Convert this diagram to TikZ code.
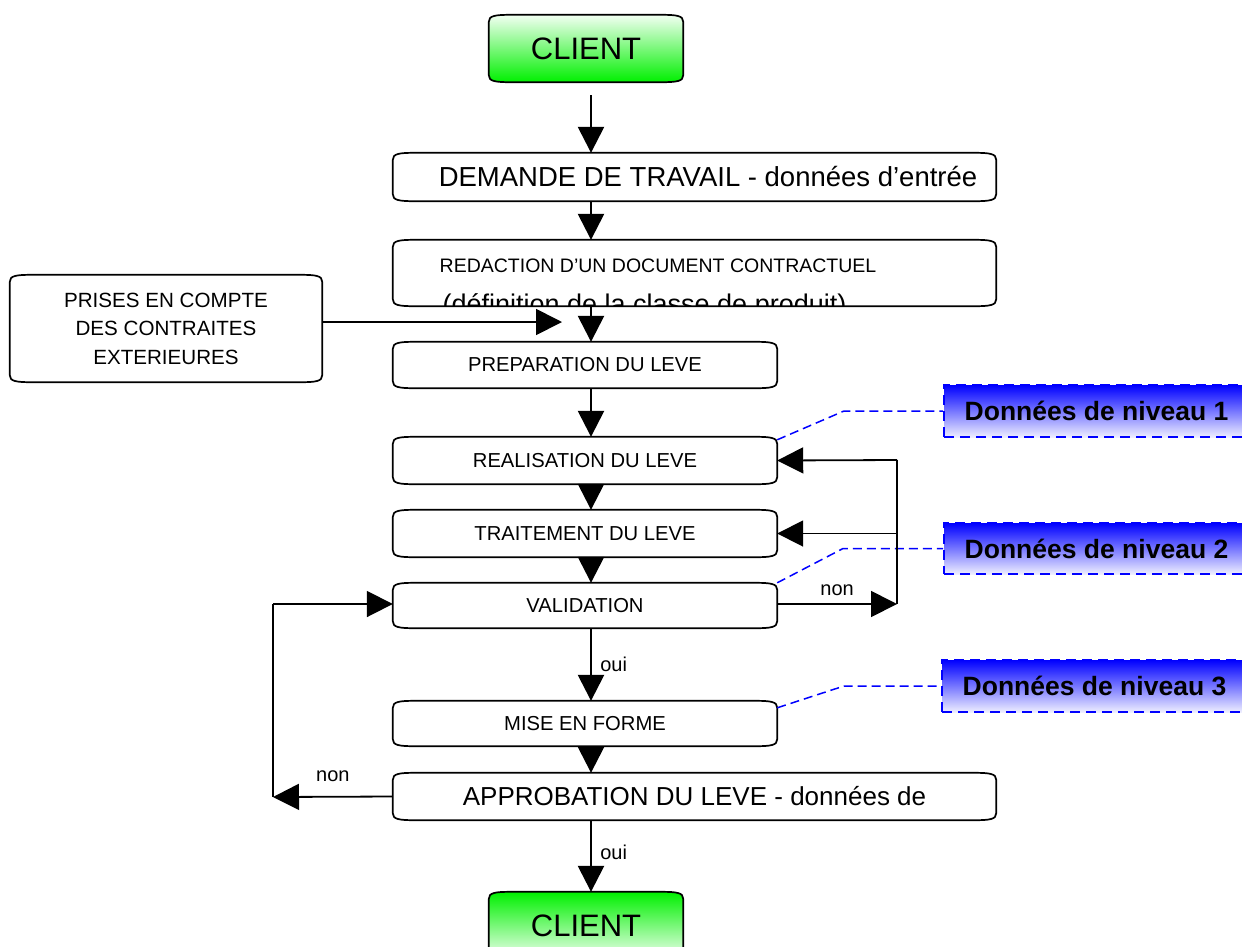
\documentclass[tikz,border=0pt]{standalone}
\usepackage{fontspec}
\setmainfont{Liberation Sans}
\usetikzlibrary{calc,arrows.meta,positioning}
\definecolor{vertclair}{RGB}{242,255,242}
\definecolor{vertvif}{RGB}{0,240,0}
\definecolor{bleuvif}{RGB}{0,0,255}
\definecolor{bleuclair}{RGB}{238,238,255}
\pgfdeclarelayer{background}
\pgfsetlayers{background,main}
\tikzset{
  boite/.style={inner sep=0pt, minimum width=384pt, minimum height=46pt, font=\fontsize{20.2}{22}\selectfont},
  grande/.style={boite, minimum width=603pt, font=\fontsize{26}{30}\selectfont},
  cadre/.style={draw, line width=1.7pt},
  client/.style={cadre, top color=vertclair, bottom color=vertvif},
  clientbas/.style={cadre, top color=vertvif, bottom color=vertclair},
  flux/.style={line width=2.6pt, -{Triangle[width=26pt,length=26pt]}},
  retour/.style={line width=1.8pt, -{Triangle[width=26pt,length=26pt]}},
  niveau/.style={draw=bleuvif, line width=2pt, dash pattern=on 10pt off 6pt,
    top color=bleuvif, bottom color=bleuclair, minimum width=305pt, minimum height=52pt,
    font=\fontsize{26.5}{30}\selectfont\bfseries},
  lien/.style={draw=bleuvif, line width=1.5pt, dash pattern=on 9pt off 5pt},
  etiq/.style={font=\fontsize{20}{24}\selectfont, inner sep=0pt}
}
% contour des boites (coins aplatis)
\newcommand{\rouleau}[2][cadre]{%
  \path[#1] ($(#2.north west)+(0pt,-7pt)$) .. controls ($(#2.north west)+(0pt,-1pt)$) and ($(#2.north west)+(6pt,0pt)$) .. ($(#2.north west)+(22pt,0pt)$)
    -- ($(#2.north east)+(-22pt,0pt)$) .. controls ($(#2.north east)+(-6pt,0pt)$) and ($(#2.north east)+(0pt,-1pt)$) .. ($(#2.north east)+(0pt,-7pt)$)
    -- ($(#2.south east)+(0pt,7pt)$) .. controls ($(#2.south east)+(0pt,1pt)$) and ($(#2.south east)+(-6pt,0pt)$) .. ($(#2.south east)+(-22pt,0pt)$)
    -- ($(#2.south west)+(22pt,0pt)$) .. controls ($(#2.south west)+(6pt,0pt)$) and ($(#2.south west)+(0pt,1pt)$) .. ($(#2.south west)+(0pt,7pt)$) -- cycle;}

\begin{document}
\begin{tikzpicture}[x=1pt, y=-1pt]
\useasboundingbox (0,0) rectangle (1242,946);
\node[boite, minimum width=194pt, minimum height=67pt, font=\fontsize{31}{36}\selectfont] (client1) at (586,48.5) {CLIENT};
\node[grande, minimum height=48pt, font=\fontsize{27.5}{30}\selectfont] (demande) at (694.5,177) {\hspace*{27pt}DEMANDE DE TRAVAIL - données d’entrée};
\node[grande, minimum height=66pt] (redac) at (694.5,273) {};
\node[boite, minimum width=312pt, minimum height=107pt, align=center, font=\fontsize{20.6}{28.5}\selectfont] (prises) at (166,328.5) {PRISES EN COMPTE\\DES CONTRAITES\\EXTERIEURES};
\node[boite] (prep) at (585,365) {PREPARATION DU LEVE};
\node[boite, minimum height=47pt] (realis) at (585,460.5) {REALISATION DU LEVE};
\node[boite, minimum height=47pt] (trait) at (585,533.5) {TRAITEMENT DU LEVE};
\node[boite, minimum height=45pt] (valid) at (585,605.5) {VALIDATION};
\node[boite, minimum height=45pt] (mise) at (585,723.5) {MISE EN FORME};
\node[grande, minimum height=47pt] (approb) at (694.5,796.5) {APPROBATION DU LEVE - données de};
\node[boite, minimum width=194pt, minimum height=67pt, font=\fontsize{31}{36}\selectfont] (client2) at (586,925.5) {CLIENT};

\begin{scope}
\clip (redac.south west) rectangle (redac.north east);
\node[etiq, anchor=base, font=\fontsize{19.5}{22}\selectfont] (redacA) at (658,272) {REDACTION D’UN DOCUMENT CONTRACTUEL};
\node[etiq, anchor=base, font=\fontsize{27}{30}\selectfont] (redacB) at (644.5,313) {(définition de la classe de produit)};
\end{scope}

\begin{pgfonlayer}{background}
\foreach \n in {demande,redac,prises,prep,realis,trait,valid,mise,approb} {\rouleau{\n}}
\rouleau[client]{client1}
\rouleau[clientbas]{client2}
\end{pgfonlayer}

% donnees
\node[niveau] (niv1) at (1096.5,411) {Données de niveau 1};
\node[niveau, minimum height=51pt] (niv2) at (1096.5,548.5) {Données de niveau 2};
\node[niveau] (niv3) at (1094.5,686) {Données de niveau 3};
\draw[lien] ([yshift=-3pt]realis.north east) -- ([xshift=-99pt]niv1.west) -- (niv1.west);
\draw[lien] (valid.north east) -- ([xshift=-100pt]niv2.west) -- (niv2.west);
\draw[lien] ([yshift=-7pt]mise.north east) -- ([xshift=-97pt]niv3.west) -- (niv3.west);

% fleches
\coordinate (axe) at (591,0);
\draw[flux] ($(client1.south -| axe)+(0pt,-13pt)$) -- (axe |- demande.north);
\draw[flux] (axe |- demande.south) -- (axe |- redac.north);
\draw[flux] (axe |- redac.south) -- (axe |- prep.north);
\coordinate (entree) at (562,322);
\draw[retour] ([yshift=6.5pt]prises.east) -- (entree);
\draw[flux] (axe |- prep.south) -- (axe |- realis.north);
\draw[flux] (axe |- realis.south) -- (axe |- trait.north);
\draw[flux] (axe |- trait.south) -- (axe |- valid.north);
\draw[flux] (axe |- valid.south) -- node[etiq, right=8pt]{oui} (axe |- mise.north);
\draw[flux] (axe |- mise.south) -- (axe |- approb.north);
\draw[flux] (axe |- approb.south) -- node[etiq, right=8pt, yshift=4pt]{oui} (axe |- client2.north);

% boucle droite
\coordinate (bas) at (897,604);
\coordinate (haut) at (897,460);
\draw[retour] ([yshift=1.5pt]valid.east) -- node[etiq, above=7pt]{non} (bas);
\draw[line width=1.8pt] (bas) -- (haut);
\draw[retour] (haut) -- (realis.east);
\draw[retour] (haut |- trait.east) -- (trait.east);

% boucle gauche
\coordinate (gbas) at (273,797);
\coordinate (ghaut) at (273,604);
\draw[retour] (approb.west) -- node[etiq, above=14pt]{non} (gbas);
\draw[line width=1.8pt] (gbas) -- (ghaut);
\draw[retour] (ghaut) -- (valid.west |- ghaut);
\end{tikzpicture}
\end{document}
